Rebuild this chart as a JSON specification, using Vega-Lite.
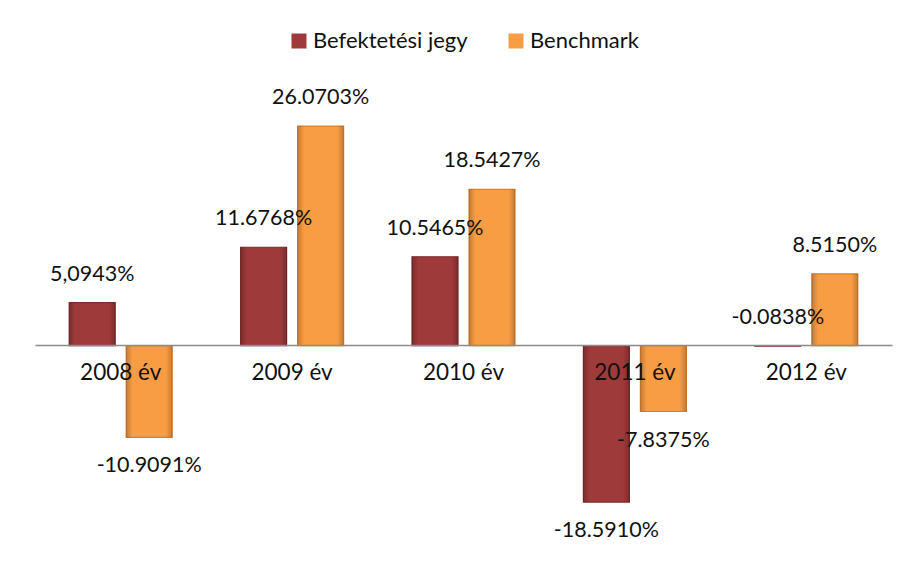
{
  "$schema": "https://vega.github.io/schema/vega-lite/v6.json",
  "width": 857,
  "height": 463,
  "autosize": {"type": "none"},
  "padding": {"left": 35, "top": 93, "right": 18, "bottom": 25},
  "background": "white",
  "config": {"view": {"stroke": null}, "font": "Lato"},
  "data": {
    "values": [
      {"year": "2008 év", "series": "Befektetési jegy", "value": 5.0943, "label": "5,0943%"},
      {"year": "2008 év", "series": "Benchmark", "value": -10.9091, "label": "-10.9091%"},
      {"year": "2009 év", "series": "Befektetési jegy", "value": 11.6768, "label": "11.6768%"},
      {"year": "2009 év", "series": "Benchmark", "value": 26.0703, "label": "26.0703%"},
      {"year": "2010 év", "series": "Befektetési jegy", "value": 10.5465, "label": "10.5465%"},
      {"year": "2010 év", "series": "Benchmark", "value": 18.5427, "label": "18.5427%"},
      {"year": "2011 év", "series": "Befektetési jegy", "value": -18.591, "label": "-18.5910%"},
      {"year": "2011 év", "series": "Benchmark", "value": -7.8375, "label": "-7.8375%"},
      {"year": "2012 év", "series": "Befektetési jegy", "value": -0.0838, "label": "-0.0838%"},
      {"year": "2012 év", "series": "Benchmark", "value": 8.515, "label": "8.5150%"}
    ]
  },
  "encoding": {
    "x": {
      "field": "year", "type": "nominal",
      "scale": {"paddingInner": 0, "paddingOuter": 0},
      "axis": {
        "title": null, "orient": "bottom", "offset": -211, "zindex": 1,
        "domainColor": "#8c8c8c", "domainWidth": 1.5, "ticks": false,
        "labelAngle": 0, "labelFontSize": 22.5, "labelColor": "#111111",
        "labelPadding": 16, "labelFont": "Lato", "grid": false
      }
    },
    "xOffset": {
      "field": "series", "type": "nominal",
      "scale": {"domain": ["Befektetési jegy", "Benchmark"], "paddingInner": 0.193, "paddingOuter": 0.6}
    },
    "y": {
      "field": "value", "type": "quantitative",
      "scale": {"domain": [-25, 30], "nice": false},
      "axis": null
    }
  },
  "layer": [
    {
      "mark": {"type": "bar", "strokeWidth": 1.2},
      "encoding": {
        "color": {
          "field": "series", "type": "nominal",
          "scale": {"domain": ["Befektetési jegy", "Benchmark"], "range": ["#9E3A3A", "#F99D45"]},
          "legend": {
            "title": null, "orient": "none", "legendX": 253, "legendY": -63,
            "direction": "horizontal", "symbolType": "square", "symbolSize": 225,
            "symbolStrokeWidth": 0, "labelFontSize": 22, "labelFont": "Lato",
            "labelColor": "#111111", "labelOffset": 3, "columnPadding": 37,
            "labelLimit": 400
          }
        },
        "stroke": {
          "field": "series", "type": "nominal",
          "scale": {"domain": ["Befektetési jegy", "Benchmark"], "range": ["#7E2A2A", "#D9802F"]},
          "legend": null
        }
      }
    },
    {
      "mark": {
        "type": "bar",
        "fill": {
          "gradient": "linear", "x1": 0, "y1": 0, "x2": 1, "y2": 0,
          "stops": [
            {"offset": 0, "color": "rgba(0,0,0,0.22)"},
            {"offset": 0.14, "color": "rgba(0,0,0,0)"},
            {"offset": 0.86, "color": "rgba(0,0,0,0)"},
            {"offset": 1, "color": "rgba(0,0,0,0.22)"}
          ]
        }
      }
    },
    {
      "transform": [{"filter": "datum.value >= -1"}],
      "mark": {"type": "text", "fontSize": 21.5, "font": "Lato", "color": "#111111", "baseline": "middle", "dy": -28},
      "encoding": {"text": {"field": "label"}}
    },
    {
      "transform": [{"filter": "datum.value < -1"}],
      "mark": {"type": "text", "fontSize": 21.5, "font": "Lato", "color": "#111111", "baseline": "middle", "dy": 29},
      "encoding": {"text": {"field": "label"}}
    }
  ]
}
